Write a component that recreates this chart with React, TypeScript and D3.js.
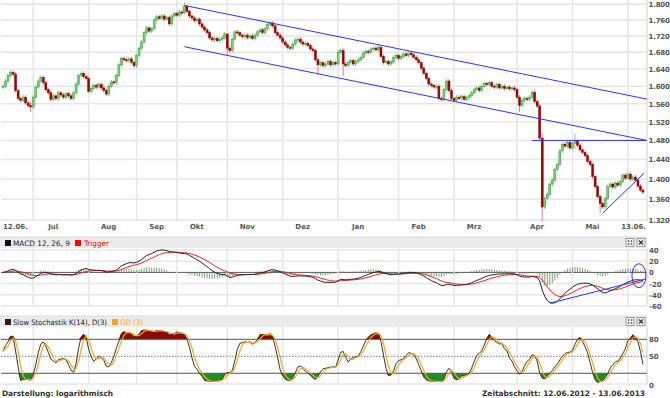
import * as d3 from "d3"

// daily closes 12.06.2012 - 13.06.2013
const closes = [
  1.600, 1.612, 1.625, 1.632, 1.628, 1.590, 1.572, 1.568, 1.575, 1.562,
  1.556, 1.553, 1.575, 1.598, 1.612, 1.620, 1.608, 1.592, 1.585, 1.570,
  1.578, 1.572, 1.585, 1.580, 1.575, 1.583, 1.578, 1.572, 1.585, 1.605,
  1.625, 1.630, 1.622, 1.618, 1.588, 1.595, 1.602, 1.598, 1.604, 1.596,
  1.590, 1.582, 1.600, 1.610, 1.608, 1.625, 1.650, 1.665, 1.662, 1.660,
  1.664, 1.656, 1.648, 1.672, 1.690, 1.705, 1.728, 1.740, 1.732, 1.738,
  1.760, 1.768, 1.764, 1.770, 1.762, 1.766, 1.750, 1.770, 1.776, 1.772,
  1.780, 1.778, 1.795, 1.782, 1.770, 1.765, 1.758, 1.762, 1.750, 1.742,
  1.735, 1.728, 1.715, 1.710, 1.714, 1.708, 1.712, 1.715, 1.725, 1.690,
  1.684, 1.712, 1.730, 1.728, 1.722, 1.718, 1.722, 1.716, 1.720, 1.714,
  1.722, 1.730, 1.735, 1.728, 1.738, 1.748, 1.752, 1.745, 1.728, 1.722,
  1.715, 1.705, 1.698, 1.692, 1.690, 1.700, 1.710, 1.712, 1.705, 1.700,
  1.702, 1.696, 1.688, 1.684, 1.662, 1.650, 1.655, 1.648, 1.652, 1.658,
  1.650, 1.655, 1.652, 1.680, 1.684, 1.652, 1.648, 1.655, 1.660, 1.652,
  1.658, 1.662, 1.668, 1.678, 1.682, 1.680, 1.688, 1.690, 1.686, 1.692,
  1.670, 1.655, 1.658, 1.652, 1.657, 1.668, 1.672, 1.665, 1.670, 1.676,
  1.672, 1.678, 1.674, 1.668, 1.662, 1.655, 1.642, 1.630, 1.618, 1.605,
  1.602, 1.598, 1.600, 1.572, 1.570, 1.592, 1.612, 1.590, 1.572, 1.568,
  1.575, 1.572, 1.576, 1.570, 1.574, 1.578, 1.585, 1.592, 1.596, 1.590,
  1.600, 1.606, 1.604, 1.608, 1.600, 1.598, 1.604, 1.596, 1.600, 1.595,
  1.598, 1.594, 1.596, 1.592, 1.575, 1.556, 1.568, 1.572, 1.570, 1.575,
  1.586, 1.565, 1.555, 1.485, 1.345, 1.362, 1.370, 1.390, 1.398, 1.420,
  1.430, 1.458, 1.472, 1.468, 1.476, 1.464, 1.474, 1.478, 1.470, 1.460,
  1.455, 1.448, 1.436, 1.430, 1.405, 1.385, 1.365, 1.352, 1.345, 1.362,
  1.385, 1.390, 1.384, 1.392, 1.388, 1.395, 1.408, 1.402, 1.410, 1.400,
  1.404, 1.398, 1.386, 1.378, 1.374,
]
const firstOpen = 1.598

// long wicks: [day index, high, low]
const wickExtremes: [number, number, number][] = [
  [11, 1.560, 1.546],
  [72, 1.800, 1.778],
  [89, 1.716, 1.676],
  [125, 1.662, 1.630],
  [135, 1.686, 1.628],
  [205, 1.575, 1.546],
  [214, 1.490, 1.320],
  [227, 1.490, 1.466],
  [237, 1.366, 1.337],
]

const monthStarts = [12, 34, 53, 69, 89, 111, 133, 157, 179, 204, 226, 248]
const monthLabels = ["Jul", "Aug", "Sep", "Okt", "Nov", "Dez", "Jan", "Feb", "Mrz", "Apr", "Mai", ""]
const priceTicks = [1.32, 1.36, 1.4, 1.44, 1.48, 1.52, 1.56, 1.6, 1.64, 1.68, 1.72, 1.76, 1.8]
const macdTicks = [40, 20, 0, -20, -40, -60]
const stochTicks = [80, 50, 0]

// drawn trend lines [day index, price]
const trendLines: [number, number][][] = [
  [[72, 1.797], [255.5, 1.5707]],
  [[72, 1.6935], [255.5, 1.48]],
  [[210, 1.48], [255.5, 1.48]],
  [[238, 1.333], [254.4, 1.412]],
]
const macdTrend: [number, number][] = [[217, -55], [255, -12]]
const macdMark: [number, number] = [252.4, -6]

const FONT = "DejaVu Sans"
const WICK = 2 // px beyond body / recorded extreme

function ema(a: number[], n: number) {
  const k = 2 / (n + 1)
  let prev = a[0]
  return a.map((v, i) => (prev = i === 0 ? v : v * k + prev * (1 - k)))
}
function sma(a: number[], n: number) {
  return a.map((_, i) => d3.mean(a.slice(Math.max(0, i - n + 1), i + 1)) as number)
}

function Header({ y, children }: { y: number; children: any }) {
  return (
    <g>
      <rect x={0} y={y} width={647} height={11} fill="#ebebeb" />
      <line x1={0} x2={647} y1={y} y2={y} stroke="#dcdcdc" />
      {children}
      <g transform={`translate(626,${y + 1.5})`}>
        <rect width={8} height={8} fill="#f4f4f4" stroke="#8a8a8a" strokeWidth={0.8} />
        {[2.5, 5.5].map((a) =>
          [2.5, 5.5].map((b) => <rect key={`${a}${b}`} x={a - 0.7} y={b - 0.7} width={1.4} height={1.4} fill="#333" />)
        )}
      </g>
      <g transform={`translate(637,${y + 1.5})`}>
        <rect width={8} height={8} fill="#f4f4f4" stroke="#8a8a8a" strokeWidth={0.8} />
        <path d="M2,2L6,6M6,2L2,6" stroke="#333" strokeWidth={1.2} />
      </g>
    </g>
  )
}

export default function App() {
  const N = closes.length
  const x = d3.scaleLinear().domain([0, N - 1]).range([3, 643])
  const yP = d3.scaleLog().domain([1.32, 1.8]).range([220, 4.3])
  const yM = d3.scaleLinear().domain([-60, 40]).range([306, 250])
  const yS = d3.scaleLinear().domain([0, 100]).range([384.6, 328])

  const extremes = new Map(wickExtremes.map((w) => [w[0], w]))
  const candles = closes.map((c, i) => {
    const o = i === 0 ? firstOpen : closes[i - 1]
    const ex = extremes.get(i)
    const hi = ex ? ex[1] : Math.max(o, c)
    const lo = ex ? ex[2] : Math.min(o, c)
    // wick tips as drawn
    return { i, o, c, hi: yP.invert(yP(hi) - WICK), lo: yP.invert(yP(lo) + WICK) }
  })

  // MACD 12,26,9 (in 1/1000)
  const e12 = ema(closes, 12)
  const e26 = ema(closes, 26)
  const macd = closes.map((_, i) => (e12[i] - e26[i]) * 1000)
  const trigger = ema(macd, 9)
  const hist = macd.map((m, i) => m - trigger[i])

  // Slow stochastic K(14), D(3)
  const highs = candles.map((d) => d.hi)
  const lows = candles.map((d) => d.lo)
  const fastK = closes.map((c, i) => {
    const s = Math.max(0, i - 13)
    const hh = d3.max(highs.slice(s, i + 1)) as number
    const ll = d3.min(lows.slice(s, i + 1)) as number
    return hh === ll ? 50 : (100 * (c - ll)) / (hh - ll)
  })
  const slowK = sma(fastK, 3)
  const dLine = sma(slowK, 3)

  const lineM = d3.line<number>().x((_, i) => x(i)).y((d) => yM(d))
  const lineS = d3.line<number>().x((_, i) => x(i)).y((d) => yS(d))
  const areaHi = d3.area<number>().x((_, i) => x(i)).y0(yS(80)).y1((d) => yS(Math.max(d, 80)))
  const areaLo = d3.area<number>().x((_, i) => x(i)).y0(yS(20)).y1((d) => yS(Math.min(d, 20)))

  const gridX = monthStarts.map((m) => x(m))
  const grid = "#e6e6e6"
  const axisText = { fontFamily: FONT, fontSize: 7, fontWeight: 700, fill: "#555" } as const

  return (
    <svg width={670} height={398} style={{ position: "absolute", left: 0, top: 0, background: "#fff" }}>
      {/* main price panel */}
      {priceTicks.map((t) => (
        <line key={t} x1={1} x2={647} y1={yP(t)} y2={yP(t)} stroke={grid} strokeWidth={1.5} />
      ))}
      {gridX.map((gx, k) => (
        <line key={k} x1={gx} x2={gx} y1={0} y2={221} stroke={grid} strokeWidth={1.5} />
      ))}
      <line x1={647} x2={647} y1={0} y2={221} stroke="#d0d0d0" />
      {candles.map((d) => {
        const up = d.c >= d.o
        const yTop = yP(Math.max(d.o, d.c))
        const yBot = yP(Math.min(d.o, d.c))
        return (
          <g key={d.i}>
            <line
              x1={x(d.i)}
              x2={x(d.i)}
              y1={yP(d.hi)}
              y2={Math.min(yP(d.lo), 221)}
              stroke={up ? "#7fcf7f" : "#d88080"}
              strokeWidth={1}
            />
            <rect
              x={x(d.i) - 1}
              y={yTop}
              width={2}
              height={Math.max(1, yBot - yTop)}
              fill={up ? "#82cc82" : "#9e0000"}
              stroke={up ? "#2f9a2f" : "#8a0000"}
              strokeWidth={0.5}
            />
          </g>
        )
      })}
      {trendLines.map((l, k) => (
        <line
          key={k}
          x1={x(l[0][0])}
          y1={yP(l[0][1])}
          x2={x(l[1][0])}
          y2={yP(l[1][1])}
          stroke="#3030ff"
          strokeWidth={1}
        />
      ))}
      {priceTicks.map((t) => (
        <text key={t} x={648.5} y={yP(t) + 3} letterSpacing={-0.2} {...axisText}>
          {d3.format(".3f")(t)}
        </text>
      ))}
      <text x={3} y={229} {...axisText}>12.06.</text>
      {monthLabels.map((m, k) => (
        <text key={k} x={gridX[k] + 20} y={229} textAnchor="middle" {...axisText}>
          {m}
        </text>
      ))}
      <text x={646} y={229} textAnchor="end" {...axisText}>13.06.</text>

      {/* MACD panel */}
      <Header y={237}>
        <rect x={5} y={240} width={6} height={6} fill="#111" />
        <text x={13} y={245.5} fontFamily={FONT} fontSize={7.5} fill="#222" textLength={57} lengthAdjust="spacingAndGlyphs">
          MACD 12, 26, 9
        </text>
        <rect x={75} y={240} width={6} height={6} fill="#f00" />
        <text x={84} y={245.5} fontFamily={FONT} fontSize={7.5} fill="#e00" textLength={25} lengthAdjust="spacingAndGlyphs">
          Trigger
        </text>
      </Header>
      {macdTicks.map((t) => (
        <line key={t} x1={1} x2={647} y1={yM(t)} y2={yM(t)} stroke={t === 0 ? "#555" : grid} strokeWidth={t === 0 ? 1 : 1.5} />
      ))}
      {gridX.map((gx, k) => (
        <line key={k} x1={gx} x2={gx} y1={249} y2={306} stroke={grid} strokeWidth={1.5} />
      ))}
      <line x1={647} x2={647} y1={249} y2={306} stroke="#d0d0d0" />
      {hist.map((h, i) => (
        <rect
          key={i}
          x={x(i) - 0.5}
          y={Math.min(yM(0), yM(h))}
          width={1}
          height={Math.abs(yM(h) - yM(0))}
          fill="#5f8f5f"
          opacity={0.85}
        />
      ))}
      <path d={lineM(trigger) ?? ""} fill="none" stroke="#f02020" strokeWidth={1} />
      <path d={lineM(macd) ?? ""} fill="none" stroke="#222" strokeWidth={1} />
      <line
        x1={x(macdTrend[0][0])}
        y1={yM(macdTrend[0][1])}
        x2={x(macdTrend[1][0])}
        y2={yM(macdTrend[1][1])}
        stroke="#3030ff"
        strokeWidth={1}
      />
      <ellipse cx={x(macdMark[0])} cy={yM(macdMark[1])} rx={7} ry={12} fill="none" stroke="#3030ff" strokeWidth={1} />
      {macdTicks.map((t) => (
        <text key={t} x={649} y={yM(t) + 3} {...axisText}>
          {t}
        </text>
      ))}

      {/* stochastic panel */}
      <Header y={316}>
        <rect x={5} y={319} width={6} height={6} fill="#3a1a10" />
        <text x={13} y={324.5} fontFamily={FONT} fontSize={7.5} fill="#222" textLength={94} lengthAdjust="spacingAndGlyphs">
          Slow Stochastik K(14), D(3)
        </text>
        <rect x={112} y={319} width={6} height={6} fill="#f5a623" />
        <text x={120} y={324.5} fontFamily={FONT} fontSize={7.5} fill="#f5a623" textLength={23} lengthAdjust="spacingAndGlyphs">
          GD (3)
        </text>
      </Header>
      {gridX.map((gx, k) => (
        <line key={k} x1={gx} x2={gx} y1={327} y2={384} stroke={grid} strokeWidth={1.5} />
      ))}
      <line x1={1} x2={647} y1={384} y2={384} stroke={grid} strokeWidth={1.5} />
      <line x1={647} x2={647} y1={327} y2={384} stroke="#d0d0d0" />
      <path d={areaHi(slowK) ?? ""} fill="#8b0a00" />
      <path d={areaLo(slowK) ?? ""} fill="#1f8f1f" />
      <line x1={1} x2={647} y1={yS(80)} y2={yS(80)} stroke="#555" />
      <line x1={1} x2={647} y1={yS(20)} y2={yS(20)} stroke="#555" />
      <line x1={1} x2={647} y1={yS(50)} y2={yS(50)} stroke="#777" strokeDasharray="1.5,1.5" />
      <path d={lineS(slowK) ?? ""} fill="none" stroke="#333" strokeWidth={1} />
      <path d={lineS(dLine) ?? ""} fill="none" stroke="#f5a623" strokeWidth={1.2} />
      {stochTicks.map((t) => (
        <text key={t} x={649} y={yS(t) + 3} {...axisText}>
          {t}
        </text>
      ))}

      <text x={2} y={396} fontFamily={FONT} fontSize={7.5} fontWeight={700} fill="#333" textLength={111} lengthAdjust="spacingAndGlyphs">
        Darstellung: logarithmisch
      </text>
      <text x={482} y={396} fontFamily={FONT} fontSize={7.5} fontWeight={700} fill="#333" textLength={163} lengthAdjust="spacingAndGlyphs">
        Zeitabschnitt: 12.06.2012 - 13.06.2013
      </text>
    </svg>
  )
}
